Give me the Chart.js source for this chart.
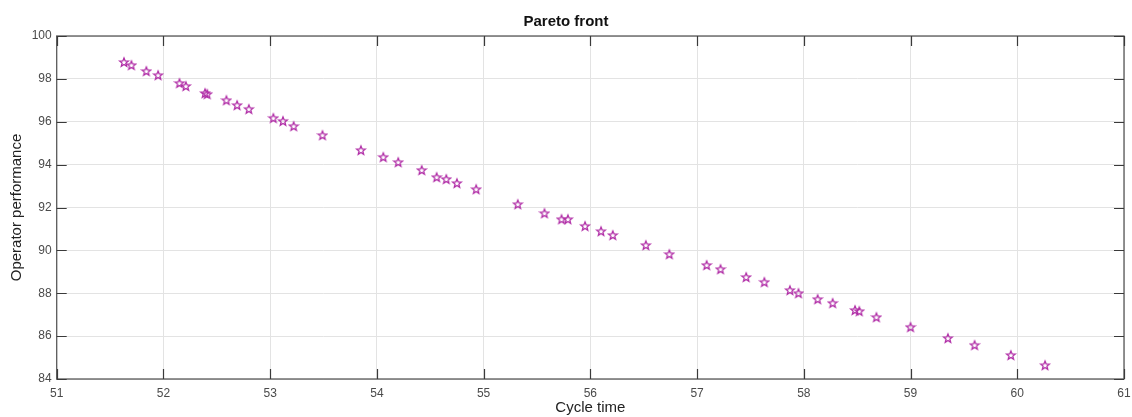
<!DOCTYPE html>
<html>
<head>
<meta charset="utf-8">
<script src="https://cdn.jsdelivr.net/npm/chart.js@4"></script>
<style>
html,body{margin:0;padding:0;background:#fff;}
#wrap{width:1132px;height:417px;}
</style>
</head>
<body>
<div id="wrap"><canvas id="c" width="1132" height="417"></canvas></div>
<script>
const cycleTime = [51.63,51.70,51.84,51.95,52.15,52.21,52.39,52.41,52.59,52.69,52.80,53.03,53.12,53.22,53.49,53.85,54.06,54.20,54.42,54.56,54.65,54.75,54.93,55.32,55.57,55.73,55.79,55.95,56.10,56.21,56.52,56.74,57.09,57.22,57.46,57.63,57.87,57.95,58.13,58.27,58.48,58.52,58.68,59.00,59.35,59.60,59.94,60.26];
const operatorPerf = [98.79,98.65,98.37,98.18,97.81,97.67,97.34,97.30,97.01,96.78,96.60,96.18,96.04,95.80,95.38,94.68,94.36,94.12,93.75,93.42,93.33,93.14,92.86,92.16,91.74,91.46,91.46,91.14,90.90,90.72,90.25,89.83,89.32,89.13,88.76,88.53,88.15,88.01,87.73,87.55,87.22,87.17,86.89,86.43,85.91,85.59,85.12,84.65];
const xTicks = [51,52,53,54,55,56,57,58,59,60,61];
const yTicks = [84,86,88,90,92,94,96,98,100];

const points = cycleTime.map((x,i)=>({x:x,y:operatorPerf[i]}));

// five-point star marker
function makeStar(){
  const s = 12, c = document.createElement('canvas');
  c.width = s; c.height = s;
  const g = c.getContext('2d');
  const cx = s/2, cy = s/2+0.5, R = 4.6, r = 2.0;
  g.beginPath();
  for(let k=0;k<10;k++){
    const a = -Math.PI/2 + k*Math.PI/5;
    const rad = k%2===0 ? R : r;
    const px = cx + rad*Math.cos(a), py = cy + rad*Math.sin(a);
    if(k===0) g.moveTo(px,py); else g.lineTo(px,py);
  }
  g.closePath();
  g.strokeStyle = '#b02ca6';
  g.lineWidth = 1.3;
  g.stroke();
  return c;
}
const star = makeStar();

const boxPlugin = {
  id:'box',
  afterDraw(chart){
    const {ctx, chartArea:a, scales} = chart;
    ctx.save();
    ctx.strokeStyle = '#5a5a5a';
    ctx.lineWidth = 1.3;
    ctx.strokeRect(a.left, a.top, a.right-a.left, a.bottom-a.top);
    ctx.lineWidth = 1.2;
    ctx.strokeStyle = '#3a3a3a';
    const tl = 10;
    ctx.beginPath();
    xTicks.forEach(v=>{
      const px = Math.round(scales.x.getPixelForValue(v))+0.5;
      ctx.moveTo(px,a.bottom); ctx.lineTo(px,a.bottom-tl);
      ctx.moveTo(px,a.top); ctx.lineTo(px,a.top+tl);
    });
    yTicks.forEach(v=>{
      const py = Math.round(scales.y.getPixelForValue(v))+0.5;
      ctx.moveTo(a.left,py); ctx.lineTo(a.left+tl,py);
      ctx.moveTo(a.right,py); ctx.lineTo(a.right-tl,py);
    });
    ctx.stroke();
    ctx.restore();
  }
};

const FONT = 'Liberation Sans, Arial, sans-serif';

new Chart(document.getElementById('c'),{
  type:'scatter',
  data:{datasets:[{
    data:points,
    pointStyle:star,
    pointRadius:6,
    pointHoverRadius:6,
    showLine:false
  }]},
  options:{
    responsive:false,
    animation:false,
    events:[],
    layout:{padding:{left:0,right:0,top:0,bottom:0}},
    plugins:{
      legend:{display:false},
      tooltip:{enabled:false},
      title:{
        display:true,
        text:'Pareto front',
        color:'#111',
        font:{family:FONT,size:15,weight:'bold',lineHeight:1.2},
        padding:{top:13,bottom:5}
      }
    },
    scales:{
      x:{
        type:'linear',
        min:51,max:61,
        afterBuildTicks(s){ s.ticks = xTicks.map(v=>({value:v})); },
        afterFit(s){ s.height = 38; s.paddingLeft = 0; s.paddingRight = 8; },
        ticks:{color:'#4a4a4a',padding:7,font:{family:FONT,size:12}},
        grid:{color:'#e3e3e3',drawTicks:false,lineWidth:1},
        border:{display:false},
        title:{display:true,text:'Cycle time',color:'#222',
          font:{family:FONT,size:15,lineHeight:1.2},
          padding:{top:0,bottom:0}}
      },
      y:{
        type:'linear',
        min:84,max:100,
        afterBuildTicks(s){ s.ticks = yTicks.map(v=>({value:v})); },
        afterFit(s){ s.width = 56.7; },
        ticks:{color:'#4a4a4a',padding:5,font:{family:FONT,size:12}},
        grid:{color:'#e3e3e3',drawTicks:false,lineWidth:1},
        border:{display:false},
        title:{display:true,text:'Operator performance',color:'#222',
          font:{family:FONT,size:15,lineHeight:1.2},
          padding:{top:7.5,bottom:0}}
      }
    }
  },
  plugins:[boxPlugin]
});
</script>
</body>
</html>
